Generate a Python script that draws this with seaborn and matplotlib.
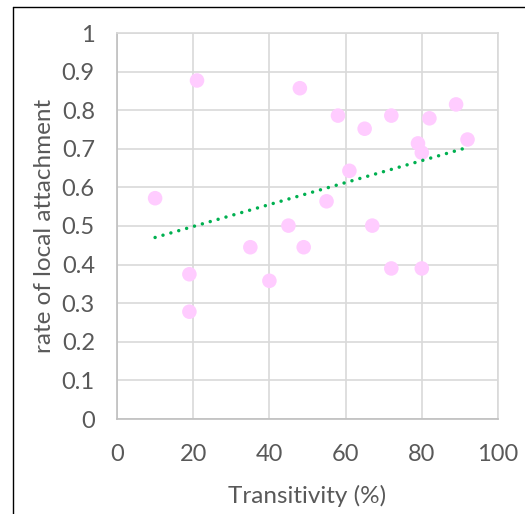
import numpy as np
import pandas as pd
import seaborn as sns
import matplotlib.pyplot as plt
from matplotlib.lines import Line2D

# Transitivity (%) vs rate of local attachment
transitivity = [10, 21, 48, 58, 65, 72, 82, 89, 79, 80, 92, 61, 55, 45, 67,
                35, 49, 19, 19, 40, 72, 80]
local_attach = [0.572, 0.877, 0.857, 0.786, 0.752, 0.786, 0.779, 0.815, 0.714,
                0.690, 0.724, 0.643, 0.564, 0.501, 0.501, 0.445, 0.445, 0.375,
                0.278, 0.358, 0.390, 0.390]
x_ticks = [0, 20, 40, 60, 80, 100]
y_ticks = [0, 0.1, 0.2, 0.3, 0.4, 0.5, 0.6, 0.7, 0.8, 0.9, 1]
y_labels = ["0", "0.1", "0.2", "0.3", "0.4", "0.5", "0.6", "0.7", "0.8", "0.9", "1"]

data = pd.DataFrame({"Transitivity": transitivity, "Attachment": local_attach})

sns.set_style("white")
plt.rcParams["font.family"] = ["Lato", "DejaVu Sans"]
txt = "#595959"

fig = plt.figure(figsize=(5.25, 5.14), dpi=100)
ax = fig.add_axes([117 / 525, 1 - 419 / 514, 381 / 525, 386 / 514])

sns.scatterplot(x="Transitivity", y="Attachment", data=data, ax=ax,
                color="#FFCCFF", s=110, edgecolor="none", zorder=3)
sns.regplot(x="Transitivity", y="Attachment", data=data, ax=ax, scatter=False,
            ci=None, color="#00B050",
            line_kws=dict(linestyle=(0, (0.01, 2.35)), linewidth=2.5,
                          dash_capstyle="round", zorder=4))

ax.set_xlim(0, 100)
ax.set_ylim(0, 1)
ax.set_xticks(x_ticks)
ax.set_yticks(y_ticks)
ax.set_yticklabels(y_labels)
ax.grid(True, color="#D9D9D9", linewidth=1.2)
ax.set_axisbelow(True)
for side in ["top", "right"]:
    ax.spines[side].set_color("#D9D9D9")
    ax.spines[side].set_linewidth(1.2)
for side in ["left", "bottom"]:
    ax.spines[side].set_color("#BFBFBF")
    ax.spines[side].set_linewidth(1.2)
ax.tick_params(axis="both", length=0, labelsize=17, labelcolor=txt)
ax.tick_params(axis="x", pad=18)
ax.tick_params(axis="y", pad=16)
ax.set_xlabel("Transitivity (%)", fontsize=17.5, color=txt, labelpad=14)
ax.set_ylabel("rate of local attachment", fontsize=17.5, color=txt, labelpad=5)

# chart frame (left and top edges visible)
fig.add_artist(Line2D([12.5 / 525, 12.5 / 525], [0, 1 - 7 / 514], color="black", lw=1))
fig.add_artist(Line2D([12.5 / 525, 1], [1 - 7 / 514, 1 - 7 / 514], color="black", lw=1))

fig.savefig("out.png", dpi=100)
